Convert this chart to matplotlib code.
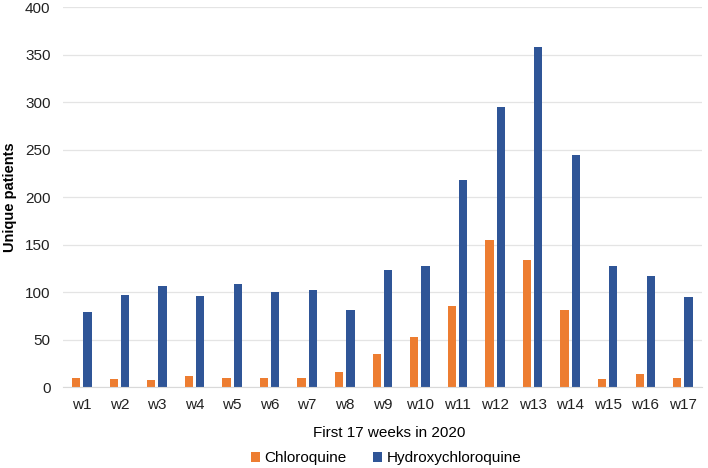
import matplotlib.pyplot as plt
import numpy as np

weeks = ['w%d' % i for i in range(1, 18)]
chloroquine = [9, 8, 7, 12, 10, 10, 9, 16, 35, 53, 85, 155, 134, 81, 8, 14, 10]
hydroxychloroquine = [79, 97, 106, 96, 108, 100, 102, 81, 123, 127, 218, 295, 358, 244, 127, 117, 95]

plt.rcParams['font.family'] = ['Liberation Sans', 'DejaVu Sans']

fig = plt.figure(figsize=(7.08, 4.68), dpi=100)
ax = fig.add_axes([0.089, 0.173, 0.902, 0.812])

x = np.arange(len(weeks))
w = 0.22
ax.bar(x - 0.15, chloroquine, w, color='#ED7D31', label='Chloroquine')
ax.bar(x + 0.15, hydroxychloroquine, w, color='#2F5597', label='Hydroxychloroquine')

ax.set_xlim(-0.5, len(weeks) - 0.5)
ax.set_ylim(0, 400)
ax.set_yticks(range(0, 401, 50))
ax.set_xticks(x)
ax.set_xticklabels(weeks)
ax.tick_params(length=0, labelsize=11, colors='#222222')
ax.tick_params(axis='x', pad=8)
ax.tick_params(axis='y', pad=9)

ax.grid(axis='y', color='#E4E4E4', linewidth=0.9)
ax.set_axisbelow(True)
for s in ['top', 'right', 'left']:
    ax.spines[s].set_visible(False)
ax.spines['bottom'].set_color('#D9D9D9')

ax.set_ylabel('Unique patients', fontsize=10.5, fontweight='bold', labelpad=6)
ax.set_xlabel('First 17 weeks in 2020', fontsize=11, labelpad=10, x=0.51)

fig.legend(loc='center', bbox_to_anchor=(0.545, 0.021), ncol=2, frameon=False,
           fontsize=11, handlelength=0.6, handleheight=0.6, handletextpad=0.3,
           columnspacing=1.7)

fig.savefig('out.png', dpi=100)
